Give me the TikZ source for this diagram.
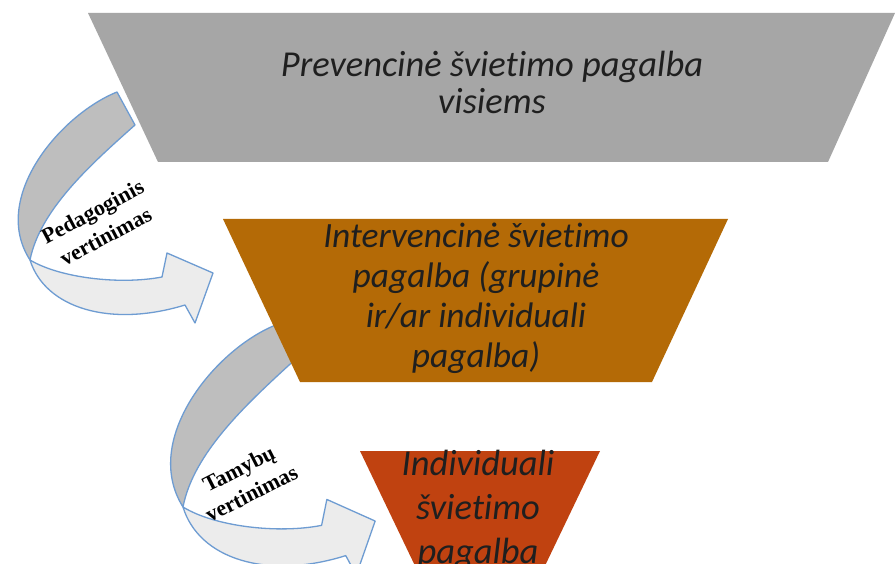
\documentclass[tikz,border=0pt]{standalone}
\usepackage{fontspec}
\setmainfont{Carlito}[Ligatures=NoCommon]
\newfontfamily\stepfont{Liberation Serif}
\usetikzlibrary{shapes,arrows}
\definecolor{topgray}{RGB}{166,166,166}
\definecolor{midbrown}{RGB}{180,106,6}
\definecolor{lowred}{RGB}{192,66,16}
\definecolor{arrowline}{RGB}{110,156,210}
\definecolor{backband}{RGB}{190,190,190}
\definecolor{frontband}{RGB}{236,236,236}
\tikzset{
  level/.style     = {draw=none, inner sep=0pt, align=center,
                      text=black!88, font=\itshape},
  stepname/.style  = {inner sep=0pt, align=center, text=black,
                      font=\stepfont\bfseries\fontsize{22}{28}\selectfont},
  backpart/.style  = {draw=arrowline, fill=backband, line width=1.3pt,
                      line join=round},
  frontpart/.style = {draw=arrowline, fill=frontband, line width=1.3pt,
                      line join=round}
}
% curved arrow, origin at the point where both bands meet
\newcommand{\bentarrow}[1]{%
  \begin{scope}[#1]
    \filldraw[backpart] (87,-168) .. controls (30,-145) and (-40,-62) .. (0,0)
      .. controls (10,-50) and (60,-95) .. (105,-135) -- cycle;
    \filldraw[frontpart] (0,0) .. controls (15,48) and (80,68) .. (155,45)
      -- (165,63) -- (183,13) -- (137,-7) -- (132,17)
      .. controls (90,25) and (30,18) .. (0,0) -- cycle;
  \end{scope}}
\begin{document}
\begin{tikzpicture}[x=1pt,y=-1pt]
	\useasboundingbox (0,0) rectangle (895,564);
	\clip (0,0) rectangle (895,564);
	\fill[white] (0,0) rectangle (895,564);
	% Arrows (behind the levels)
	\bentarrow{shift={(30,260)}}
	\bentarrow{shift={(183,507)}, xscale=1.05, yscale=1.08}
	% Level 1
	\fill[topgray] (88,13) -- (895,13) -- (828,162) -- (158,162) -- cycle;
	\node[level, anchor=base, font=\itshape\fontsize{36.5}{37}\selectfont] (prevent) at (492,114) {Prevencinė švietimo pagalba\\visiems};
	% Level 2
	\fill[midbrown] (223,219) -- (728,219) -- (652,382) -- (300,382) -- cycle;
	\node[level, anchor=base, font=\itshape\fontsize{35.5}{40}\selectfont] (intervent) at (476,367) {Intervencinė švietimo\\pagalba (grupinė\\ir/ar individuali\\pagalba)};
	% Level 3
	\fill[lowred] (360,451) -- (600,451) -- (519,620) -- (441,620) -- cycle;
	\node[level, anchor=base, font=\itshape\fontsize{36.5}{44}\selectfont] (individ) at (478,563) {Individuali\\švietimo\\pagalba};
	% Arrow labels
	\node[stepname, rotate=28] (pedvert) at (99,224) {Pedagoginis\\vertinimas};
	\node[stepname, rotate=27] (servvert) at (245,481) {Tamybų\\vertinimas};
\end{tikzpicture}
\end{document}
